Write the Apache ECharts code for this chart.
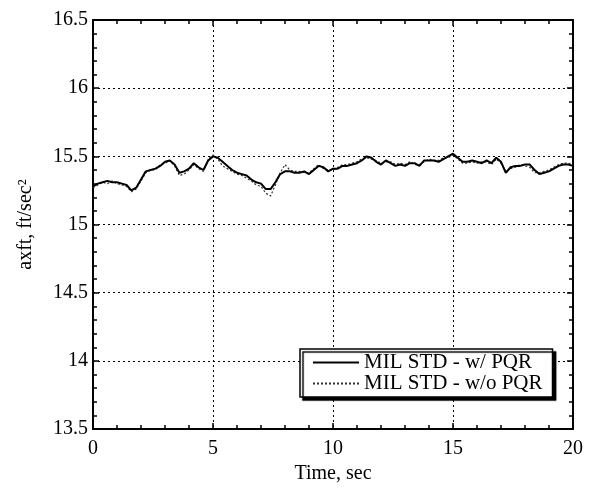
<!DOCTYPE html>
<html>
<head>
<meta charset="utf-8">
<script src="https://cdn.jsdelivr.net/npm/echarts@6/dist/echarts.min.js"></script>
<style>html,body{margin:0;padding:0;background:#fff}#c{width:594px;height:489px}</style>
</head>
<body>
<div id="c"></div>
<script>
const times = [0,0.2,0.4,0.6,0.8,1,1.2,1.4,1.6,1.8,2,2.2,2.4,2.6,2.8,3,3.2,3.4,3.6,3.8,4,4.2,4.4,4.6,4.8,5,5.2,5.4,5.6,5.8,6,6.2,6.4,6.6,6.8,7,7.2,7.4,7.6,7.8,8,8.2,8.4,8.6,8.8,9,9.2,9.4,9.6,9.8,10,10.2,10.4,10.6,10.8,11,11.2,11.4,11.6,11.8,12,12.2,12.4,12.6,12.8,13,13.2,13.4,13.6,13.8,14,14.2,14.4,14.6,14.8,15,15.2,15.4,15.6,15.8,16,16.2,16.4,16.6,16.8,17,17.2,17.4,17.6,17.8,18,18.2,18.4,18.6,18.8,19,19.2,19.4,19.6,19.8,20];
const withPQR = [15.28,15.30,15.31,15.32,15.31,15.31,15.30,15.29,15.25,15.27,15.33,15.39,15.40,15.41,15.43,15.46,15.47,15.44,15.38,15.39,15.41,15.45,15.42,15.40,15.47,15.50,15.49,15.46,15.43,15.40,15.38,15.37,15.36,15.33,15.31,15.30,15.26,15.26,15.31,15.37,15.39,15.39,15.38,15.38,15.39,15.37,15.40,15.43,15.42,15.39,15.41,15.41,15.43,15.43,15.44,15.45,15.47,15.50,15.49,15.46,15.44,15.47,15.45,15.43,15.44,15.43,15.45,15.45,15.43,15.47,15.47,15.47,15.46,15.48,15.50,15.52,15.49,15.46,15.46,15.47,15.46,15.45,15.47,15.45,15.49,15.46,15.38,15.42,15.43,15.43,15.44,15.44,15.40,15.37,15.38,15.39,15.41,15.43,15.44,15.44,15.43];
const withoutPQR = [15.27,15.29,15.31,15.30,15.32,15.30,15.29,15.28,15.24,15.26,15.32,15.38,15.40,15.40,15.44,15.45,15.47,15.43,15.36,15.37,15.40,15.44,15.41,15.39,15.48,15.51,15.48,15.43,15.41,15.39,15.37,15.36,15.34,15.32,15.29,15.28,15.23,15.21,15.29,15.38,15.44,15.40,15.39,15.39,15.38,15.38,15.41,15.44,15.41,15.40,15.40,15.42,15.44,15.44,15.45,15.46,15.48,15.49,15.48,15.47,15.45,15.46,15.46,15.44,15.45,15.44,15.46,15.44,15.44,15.46,15.48,15.47,15.47,15.49,15.49,15.51,15.48,15.45,15.45,15.46,15.45,15.46,15.46,15.44,15.48,15.45,15.39,15.41,15.42,15.44,15.43,15.42,15.38,15.38,15.39,15.40,15.42,15.44,15.45,15.45,15.44];
const seriesNames = ['MIL STD - w/ PQR', 'MIL STD - w/o PQR'];
const xTitle = 'Time, sec';
const yTitle = 'axft, ft/sec\u00B2';

const font = 'Liberation Serif, Times New Roman, serif';
const chart = echarts.init(document.getElementById('c'), null, {renderer: 'canvas'});
const pairs = arr => times.map((t, i) => [t, arr[i]]);
const axisLine = {show: true, onZero: false, lineStyle: {color: '#000', width: 2}};
const tickStyle = {show: true, inside: true, length: 6, lineStyle: {color: '#000', width: 1.5}};
const minorStyle = {show: true, splitNumber: 5, length: 4, lineStyle: {color: '#000', width: 1.5}};
chart.setOption({
  animation: false,
  backgroundColor: '#fff',
  grid: {left: 93, right: 21, top: 20, bottom: 57, containLabel: false},
  legend: {
    orient: 'vertical', left: 300, top: 349,
    itemWidth: 46, itemHeight: 14, itemGap: 0,
    padding: [3, 10, 3, 12],
    backgroundColor: '#fff', borderColor: '#000', borderWidth: 1.5,
    shadowColor: '#000', shadowOffsetX: 3, shadowOffsetY: 3, shadowBlur: 1,
    itemStyle: {opacity: 0},
    textStyle: {fontFamily: font, fontSize: 21, color: '#000', lineHeight: 21},
    data: seriesNames
  },
  xAxis: [{
    type: 'value', min: 0, max: 20, interval: 5, position: 'bottom',
    axisLine: axisLine, axisTick: tickStyle, minorTick: minorStyle,
    axisLabel: {color: '#000', fontFamily: font, fontSize: 20, margin: 10},
    splitLine: {show: true, lineStyle: {color: '#000', type: [2, 3], width: 1}},
    name: xTitle, nameLocation: 'middle', nameGap: 31,
    nameTextStyle: {color: '#000', fontFamily: font, fontSize: 20}
  }, {
    type: 'value', min: 0, max: 20, interval: 5, position: 'top',
    axisLine: axisLine, axisTick: tickStyle, minorTick: minorStyle,
    axisLabel: {show: false}, splitLine: {show: false}
  }],
  yAxis: [{
    type: 'value', min: 13.5, max: 16.5, interval: 0.5, position: 'left',
    axisLine: axisLine, axisTick: tickStyle, minorTick: minorStyle,
    axisLabel: {color: '#000', fontFamily: font, fontSize: 20, margin: 5},
    splitLine: {show: true, lineStyle: {color: '#000', type: [2, 3], width: 1}},
    name: yTitle, nameLocation: 'middle', nameGap: 57,
    nameTextStyle: {color: '#000', fontFamily: font, fontSize: 20}
  }, {
    type: 'value', min: 13.5, max: 16.5, interval: 0.5, position: 'right',
    axisLine: axisLine, axisTick: tickStyle, minorTick: minorStyle,
    axisLabel: {show: false}, splitLine: {show: false}
  }],
  series: [{
    name: seriesNames[1], type: 'line', showSymbol: false, symbol: 'none',
    data: pairs(withoutPQR), z: 2,
    itemStyle: {color: '#333'},
    lineStyle: {color: '#333', width: 1.2, type: [2, 2]}
  }, {
    name: seriesNames[0], type: 'line', showSymbol: false, symbol: 'none',
    data: pairs(withPQR), z: 3,
    itemStyle: {color: '#000'},
    lineStyle: {color: '#000', width: 2}
  }]
});
</script>
</body>
</html>
